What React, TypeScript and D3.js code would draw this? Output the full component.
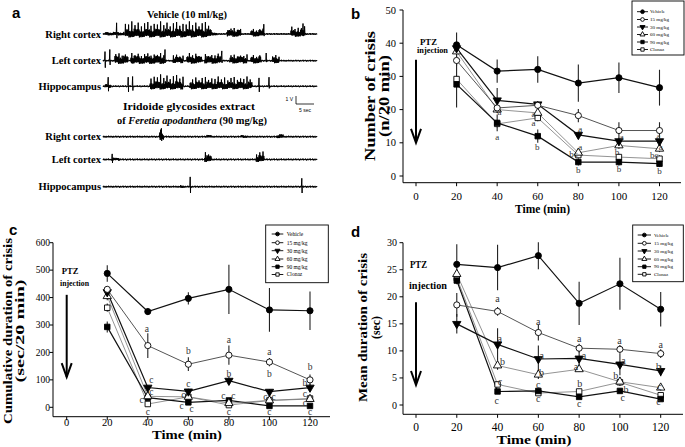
import * as d3 from "d3";

// ---------- shared ----------
const TIMES = [20, 40, 60, 80, 100, 120];
const X_TICKS = [0, 20, 40, 60, 80, 100, 120];
const SERIES = ["Vehicle", "15 mg/kg", "30 mg/kg", "60 mg/kg", "90 mg/kg", "Clonaz"];
const SYMBOLS = ["circle", "circle", "triangleDown", "triangleUp", "square", "square"];
const FILLED = [true, false, true, false, true, false];
const LINE_COLORS = ["#111", "#555", "#111", "#777", "#111", "#777"];
const LINE_WIDTHS = [1.2, 1, 1.2, 0.8, 1.2, 0.8];

// ---------- b: number of crisis ----------
const CRISIS_TICKS = [0, 10, 20, 30, 40, 50];
const CRISIS_MEAN = [
  [39.5, 31.6, 32.1, 28.0, 29.6, 26.6],
  [34.8, 20.5, 21.3, 18.2, 13.7, 13.7],
  [38.5, 22.8, 21.6, 12.4, 10.5, 10.5],
  [37.5, 20.0, 19.0, 7.0, 9.2, 8.2],
  [27.6, 16.0, 12.0, 4.2, 4.2, 3.7],
  [29.2, 15.7, 17.5, 6.3, 5.7, 5.2],
];
const CRISIS_ERR = [
  [3.7, 3.5, 4.0, 5.6, 4.6, 5.4],
  [1.5, 1.0, 1.0, 2.0, 2.5, 2.5],
  [1.5, 3.7, 1.0, 1.0, 1.0, 1.0],
  [1.0, 1.0, 1.0, 1.0, 1.0, 1.0],
  [7.0, 2.5, 2.0, 1.0, 1.0, 1.0],
  [1.0, 1.0, 1.0, 1.0, 1.0, 1.0],
];
const CRISIS_LETTERS: [number, number, string][] = [
  [41.1, 19.3, "a"], [40, 11.8, "a"], [57.9, 18.8, "a"], [57.9, 16, "a"], [59.8, 8.8, "b"],
  [80.9, 14.3, "a"], [80.9, 8.8, "a"], [77.6, 6.6, "bc"], [80, 1.8, "b"],
  [101.4, 11.8, "a"], [99, 7.3, "b"], [100, 2.3, "b"],
  [119.5, 12.1, "a"], [120.6, 8.9, "a"], [117.4, 6.3, "bc"], [120, 1.6, "b"],
];

// ---------- c: cumulative duration ----------
const CUM_TICKS = [0, 100, 200, 300, 400, 500, 600];
const CUM_MEAN = [
  [488, 349, 397, 430, 355, 352],
  [430, 225, 157, 190, 165, 100],
  [420, 72, 58, 97, 57, 72],
  [405, 40, 38, 15, 25, 30],
  [293, 35, 18, 25, 5, 5],
  [363, 12, 38, 8, 25, 32],
];
const CUM_ERR = [
  [30, 12, 22, 90, 80, 70],
  [10, 45, 25, 35, 15, 20],
  [15, 8, 10, 15, 10, 12],
  [15, 5, 5, 5, 5, 5],
  [20, 5, 5, 5, 3, 3],
  [15, 3, 5, 3, 5, 5],
];
const CUM_LETTERS: [number, number, string][] = [
  [39.5, 288, "a"], [41.8, 100, "c"], [41.8, 57, "c"], [37, 27, "c"], [40, -16, "c"],
  [60, 206, "b"], [60, 87, "c"], [57.5, 47, "c"], [56.7, 5, "c"], [61.6, -4, "c"],
  [80, 245, "a"], [80, 121, "b"], [77.3, 41, "c"], [82.2, 41, "c"], [80, -16, "c"],
  [100, 203, "a"], [100, 121, "b"], [98, 39, "c"], [102, 39, "c"], [100, -16, "c"],
  [120, 148, "b"], [117.5, 90, "b"], [117.5, 49, "c"], [117.5, 17, "c"], [120, -16, "c"],
];

// ---------- d: mean duration ----------
const DUR_TICKS = [0, 5, 10, 15, 20, 25, 30];
const DUR_MEAN = [
  [26.0, 25.4, 27.6, 18.8, 22.4, 17.7],
  [18.5, 17.3, 13.4, 10.5, 10.3, 9.5],
  [15.0, 11.2, 8.5, 8.6, 7.5, 6.3],
  [24.2, 7.3, 5.6, 6.6, 4.3, 3.2],
  [23.0, 2.5, 2.6, 1.5, 2.6, 1.1],
  [23.5, 3.8, 2.2, 2.5, 4.2, 1.8],
];
const DUR_ERR = [
  [3.7, 4.2, 2.5, 4.0, 4.8, 3.2],
  [2.2, 0.8, 1.5, 0.8, 0.8, 0.8],
  [1.8, 3.0, 2.5, 1.5, 2.0, 1.0],
  [0.5, 0.8, 0.8, 0.5, 0.8, 0.5],
  [0.5, 0.4, 0.4, 0.4, 0.4, 0.3],
  [0.5, 0.5, 0.4, 0.4, 0.5, 0.4],
];
const DUR_LETTERS: [number, number, string][] = [
  [40, 19.6, "a"], [41, 12.3, "a"], [42.4, 8, "b"], [41.2, 4.4, "c"], [39.6, 0.9, "c"],
  [60, 15.4, "a"], [61.6, 9.2, "a"], [61.6, 6, "b"], [60, 3.7, "c"], [60, 1.2, "c"],
  [80, 12.2, "a"], [82.4, 9.1, "a"], [78.4, 7.1, "a"], [80.3, 3.9, "b"], [80, 0.3, "c"],
  [99.8, 11.9, "a"], [101.7, 8.3, "a"], [98, 5.4, "b"], [103, 2.9, "b"], [101.4, 1.4, "c"],
  [120, 11.1, "a"], [118.9, 7.1, "b"], [119.4, 3.5, "c"], [118.9, 0.6, "c"],
];

// ---------- a: EEG traces (time in s, amplitude in V) ----------
const EEG_LEADS = ["Right cortex", "Left cortex", "Hippocampus"];
const EEG_END = 53.5;
const NOISE = [0.2, -0.35, 0.5, -0.1, 0.3, -0.55, 0.15, -0.25, 0.45, -0.4, 0.05, -0.3, 0.35, -0.15, 0.55, -0.45, 0.25, -0.2];
const BURST_SHAPE = [1, 0.55, 0.8, 0.4, 0.95, 0.6, 0.7, 0.35, 0.9, 0.5, 0.75, 0.45, 0.85];
const SPIKE_SHAPE = [1, 0.7, 0.9, 0.6, 0.85, 0.95, 0.65, 0.8, 0.75];
// [start, end, amplitude, tall-spike amplitude]
const VEHICLE_BURSTS: [number, number, number, number][][] = [
  [[0.5, 5.3, 0.3, 0], [5.5, 27, 0.75, 1.8], [27, 28.5, 0.3, 0], [31, 34.5, 0.6, 0.9], [37, 40, 0.55, 0.8], [47, 50.5, 0.6, 1.1]],
  [[3, 6.3, 0.7, 1.1], [7, 15.5, 0.7, 1.1], [17.5, 20, 0.55, 0.9], [21, 24.7, 0.65, 1.1], [25.5, 29.7, 0.65, 1.0], [31.7, 36, 0.6, 0.9], [37, 39.5, 0.6, 0.9], [42.3, 44, 0.55, 0.8]],
  [[0.5, 2, 0.35, 0], [11.8, 20, 0.7, 1.7], [21.7, 37.3, 0.65, 1.4]],
];
// [time, up, down]
const VEHICLE_SPIKES: [number, number, number][][] = [
  [[3.4, 1.6, 0.6], [40.2, 1.4, 0.3], [50, 1.5, 0.3]],
  [[0.5, 1.3, 1.0], [1.7, 1.6, 0.6], [15.5, 1.6, 0.3], [29.7, 1.4, 0.3], [40.8, 1.1, 0.2]],
  [[1.3, 1.3, 0.7], [6.3, 1.3, 0.8], [7.4, 1.4, 0.6], [39, 1.2, 0.8], [41.5, 1.3, 0.3]],
];
const EXTRACT_BURSTS: [number, number, number, number][][] = [
  [[14.2, 15.2, 0.7, 1.0], [26, 27, 0.25, 0], [34.5, 36, 0.25, 0], [43.5, 45, 0.35, 0]],
  [[2, 4, 0.25, 0], [25.4, 27, 0.6, 1.1], [38.3, 40.2, 0.6, 1.2]],
  [[19.3, 20.3, 0.25, 0]],
];
const EXTRACT_SPIKES: [number, number, number][][] = [
  [[14.6, 1.2, 0.6]],
  [[2.3, 0.8, 0.5]],
  [[21.8, 1.4, 0.9], [49.7, 1.2, 0.9]],
];

const SERIF = "Liberation Serif, Times New Roman, serif";
const SANS = "Liberation Sans, Arial, sans-serif";

type Geom = {
  xr: [number, number];
  yd: [number, number];
  yr: [number, number];
  yTicks: number[];
  axisLeft: number;
  axisBottom: number;
  axisRight: number;
  yTickX: number;
  xTickY: number;
  yTickFont: number;
  xTickFont: number;
  letterFont: number;
  xTitle: { x: number; y: number; len: number; size: number };
  yTitle: { x: number; len: number; text: string }[];
  yTitleY: number;
  yTitleSize: number;
  legend: { x: number; y: number; w: number; h: number; rows: number[]; lineX: [number, number]; textX: number; size: number };
  arrow: [number, number];
  ptz: { x: number; y: number; len: number; text: string }[];
  ptzSize: number;
  letter: { x: number; y: number; text: string };
};

function symbolPath(kind: string, size: number) {
  const type = kind === "circle" ? d3.symbolCircle : kind === "square" ? d3.symbolSquare : d3.symbolTriangle;
  return d3.symbol().type(type).size(size)() as string;
}

function Marker({ i, x, y, size }: { i: number; x: number; y: number; size: number }) {
  const kind = SYMBOLS[i];
  const rot = kind === "triangleDown" ? 180 : 0;
  return (
    <path
      d={symbolPath(kind, size)}
      transform={`translate(${x},${y}) rotate(${rot})`}
      fill={FILLED[i] ? "#000" : "#fff"}
      stroke="#000"
      strokeWidth={0.9}
    />
  );
}

const serif = { fontFamily: SERIF };

function LinePanel({ g, means, errs, letters }: { g: Geom; means: number[][]; errs: number[][]; letters: [number, number, string][] }) {
  const x = d3.scaleLinear().domain([0, 120]).range(g.xr);
  const y = d3.scaleLinear().domain(g.yd).range(g.yr);
  const line = d3.line<number>().x((_, k) => x(TIMES[k])).y((v) => y(v));
  const order = d3.range(SERIES.length).reverse();
  const lg = g.legend;
  return (
    <g style={serif}>
      <text x={g.letter.x} y={g.letter.y} style={{ fontFamily: SANS }} fontWeight={700} fontSize={15}>{g.letter.text}</text>

      {/* axes */}
      <line x1={g.axisLeft} x2={g.axisLeft} y1={y(g.yd[1])} y2={g.axisBottom} stroke="#000" strokeWidth={1} />
      <line x1={g.axisLeft} x2={g.axisRight} y1={g.axisBottom} y2={g.axisBottom} stroke="#000" strokeWidth={1} />
      {g.yTicks.map((t) => (
        <g key={`y${t}`}>
          <line x1={g.axisLeft - 3.5} x2={g.axisLeft} y1={y(t)} y2={y(t)} stroke="#000" />
          <text x={g.yTickX} y={y(t)} dy="0.35em" textAnchor="end" fontSize={g.yTickFont}>{t}</text>
        </g>
      ))}
      {X_TICKS.map((t) => (
        <g key={`x${t}`}>
          <line x1={x(t)} x2={x(t)} y1={g.axisBottom} y2={g.axisBottom + 3.5} stroke="#000" />
          <text x={x(t)} y={g.xTickY} textAnchor="middle" fontSize={g.xTickFont}>{t}</text>
        </g>
      ))}
      <text x={g.xTitle.x} y={g.xTitle.y} textAnchor="middle" fontWeight={700} fontSize={g.xTitle.size}
        textLength={g.xTitle.len} lengthAdjust="spacingAndGlyphs">Time (min)</text>
      {g.yTitle.map((t) => (
        <text key={t.text} transform={`translate(${t.x},${g.yTitleY}) rotate(-90)`} textAnchor="middle" dy="0.35em"
          fontWeight={700} fontSize={g.yTitleSize} textLength={t.len} lengthAdjust="spacingAndGlyphs">{t.text}</text>
      ))}

      {/* PTZ injection arrow */}
      {g.ptz.map((p) => (
        <text key={p.text} x={p.x} y={p.y} fontWeight={700} fontSize={g.ptzSize} textLength={p.len} lengthAdjust="spacingAndGlyphs">{p.text}</text>
      ))}
      <line x1={x(0)} x2={x(0)} y1={y(g.arrow[0])} y2={y(g.arrow[1])} stroke="#000" strokeWidth={2} />
      <path d={`M${x(0) - 5},${y(g.arrow[1]) - 14} L${x(0)},${y(g.arrow[1])} L${x(0) + 5},${y(g.arrow[1]) - 14}`} fill="none" stroke="#000" strokeWidth={2} />

      {/* series */}
      {order.map((i) => (
        <g key={SERIES[i]}>
          <path d={line(means[i]) as string} fill="none" stroke={LINE_COLORS[i]} strokeWidth={LINE_WIDTHS[i]} />
          {means[i].map((v, k) => (
            <line key={k} x1={x(TIMES[k])} x2={x(TIMES[k])} y1={y(v - errs[i][k])} y2={y(v + errs[i][k])} stroke="#222" strokeWidth={1.1} />
          ))}
        </g>
      ))}
      {order.map((i) => (
        <g key={`m${SERIES[i]}`}>
          {means[i].map((v, k) => (
            <Marker key={k} i={i} x={x(TIMES[k])} y={y(v)} size={30} />
          ))}
        </g>
      ))}
      {letters.map(([t, v, s], k) => (
        <text key={k} x={x(t)} y={y(v)} dy="0.35em" textAnchor="middle" fontSize={g.letterFont} fill="#333">{s}</text>
      ))}

      {/* legend */}
      <rect x={lg.x} y={lg.y} width={lg.w} height={lg.h} fill="#fff" stroke="#000" strokeWidth={0.9} />
      {SERIES.map((s, i) => (
        <g key={`l${s}`}>
          <line x1={lg.lineX[0]} x2={lg.lineX[1]} y1={lg.rows[i]} y2={lg.rows[i]} stroke="#000" strokeWidth={0.9} />
          <Marker i={i} x={(lg.lineX[0] + lg.lineX[1]) / 2} y={lg.rows[i]} size={11} />
          <text x={lg.textX} y={lg.rows[i]} dy="0.35em" fontSize={lg.size}>{s}</text>
        </g>
      ))}
    </g>
  );
}

const GEOM_B: Geom = {
  xr: [416, 659.5], yd: [0, 50], yr: [176, 10], yTicks: CRISIS_TICKS,
  axisLeft: 403, axisBottom: 182.7, axisRight: 681, yTickX: 396, xTickY: 199.5,
  yTickFont: 10.5, xTickFont: 11, letterFont: 9,
  xTitle: { x: 542.5, y: 213, len: 55, size: 11.5 },
  yTitle: [{ x: 370, len: 130, text: "Number of crisis" }, { x: 383.5, len: 82, text: "(n/20 min)" }],
  yTitleY: 96, yTitleSize: 15,
  legend: { x: 632, y: 1, w: 52, h: 54, rows: [11.7, 19.5, 27, 34.5, 42, 49.5], lineX: [637, 648], textX: 650, size: 5 },
  arrow: [35, 10],
  ptz: [{ x: 420, y: 44.5, len: 17, text: "PTZ" }, { x: 417, y: 53, len: 31, text: "injection" }],
  ptzSize: 8.5,
  letter: { x: 351, y: 19, text: "b" },
};

const GEOM_C: Geom = {
  xr: [66.7, 310], yd: [0, 600], yr: [407.3, 242.7], yTicks: CUM_TICKS,
  axisLeft: 53, axisBottom: 416.7, axisRight: 330, yTickX: 50, xTickY: 425.5,
  yTickFont: 9.5, xTickFont: 10.5, letterFont: 9.5,
  xTitle: { x: 187, y: 438.5, len: 70, size: 12.5 },
  yTitle: [{ x: 7.5, len: 186, text: "Cumulative duration of crisis" }, { x: 19, len: 103, text: "(sec/20 min)" }],
  yTitleY: 331, yTitleSize: 13.5,
  legend: { x: 265.7, y: 225, w: 62.6, h: 57.7, rows: [234, 242.7, 250.7, 259, 266.7, 274.5], lineX: [271.7, 283.3], textX: 286.7, size: 5.5 },
  arrow: [410, 110],
  ptz: [{ x: 61.7, y: 274, len: 16.7, text: "PTZ" }, { x: 60, y: 285.5, len: 29, text: "injection" }],
  ptzSize: 9,
  letter: { x: 9, y: 235, text: "c" },
};

const GEOM_D: Geom = {
  xr: [416, 660.7], yd: [0, 30], yr: [405, 242.7], yTicks: DUR_TICKS,
  axisLeft: 403, axisBottom: 414.3, axisRight: 683, yTickX: 397, xTickY: 430.5,
  yTickFont: 10, xTickFont: 11.5, letterFont: 10,
  xTitle: { x: 534, y: 444, len: 75, size: 13 },
  yTitle: [{ x: 362, len: 149, text: "Mean duration of crisis" }, { x: 375, len: 23, text: "(sec)" }],
  yTitleY: 327.5, yTitleSize: 13.5,
  legend: { x: 632.7, y: 225, w: 50.6, h: 56.7, rows: [235, 243.3, 251, 259, 266.7, 274.3], lineX: [637.7, 651], textX: 654, size: 5 },
  arrow: [19, 3.7],
  ptz: [{ x: 410, y: 268, len: 17, text: "PTZ" }, { x: 409, y: 289, len: 38, text: "injection" }],
  ptzSize: 11,
  letter: { x: 351, y: 237, text: "d" },
};

// ---------- EEG ----------
const eegX = d3.scaleLinear().domain([0, EEG_END]).range([103, 317]);
const eegAmp = d3.scaleLinear().domain([0, 1]).range([0, 7]);
const STEP = 0.1;

function eegPath(bursts: [number, number, number, number][], spikes: [number, number, number][], baseY: number, noise: number) {
  const pts: [number, number][] = [];
  const n = Math.round(EEG_END / STEP);
  const spikeAt = new Map(spikes.map(([t, u, dn]) => [Math.round(t / STEP), [u, dn]]));
  for (let k = 0; k <= n; k++) {
    const t = k * STEP;
    const sp = spikeAt.get(k);
    if (sp) {
      pts.push([eegX(t), baseY - eegAmp(sp[0])]);
      pts.push([eegX(t) + 0.3, baseY + eegAmp(sp[1])]);
      continue;
    }
    let v = NOISE[k % NOISE.length] * noise;
    const b = bursts.find(([s, e]) => t >= s && t <= e);
    if (b) {
      const [, , amp, spk] = b;
      v = (k % 2 === 0 ? 1 : -0.65) * amp * BURST_SHAPE[k % BURST_SHAPE.length];
      if (spk > 0 && k % 8 === 0) v = spk * SPIKE_SHAPE[(k / 8) % SPIKE_SHAPE.length];
    }
    pts.push([eegX(t), baseY - eegAmp(v)]);
  }
  return d3.line()(pts) as string;
}

const VEHICLE_Y = [34, 60.7, 86.3];
const EXTRACT_Y = [136.7, 159.5, 186.7];

function EegPanel() {
  return (
    <g style={serif}>
      <text x={12} y={18} style={{ fontFamily: SANS }} fontWeight={700} fontSize={15}>a</text>
      <text x={187} y={17.5} textAnchor="middle" fontWeight={700} fontSize={10.5} textLength={80} lengthAdjust="spacingAndGlyphs">Vehicle (10 ml/kg)</text>
      {EEG_LEADS.map((lead, i) => (
        <g key={`v${lead}`}>
          <text x={101} y={VEHICLE_Y[i] + 3.5} textAnchor="end" fontWeight={700} fontSize={10.5}>{lead}</text>
          <path d={eegPath(VEHICLE_BURSTS[i], VEHICLE_SPIKES[i], VEHICLE_Y[i], 0.24)} fill="none" stroke="#000" strokeWidth={1} />
        </g>
      ))}
      {/* scale bar */}
      <text x={293} y={101} textAnchor="end" style={{ fontFamily: SANS }} fontSize={5}>1 V</text>
      <path d="M296,96 V104 H314" fill="none" stroke="#000" strokeWidth={0.8} />
      <text x={305} y={112} textAnchor="middle" style={{ fontFamily: SANS }} fontSize={5}>5 sec</text>

      <text x={189} y={110} textAnchor="middle" fontWeight={700} fontSize={10.5} textLength={132} lengthAdjust="spacingAndGlyphs">Iridoide glycosides extract</text>
      <text x={192} y={124} textAnchor="middle" fontWeight={700} fontSize={10.5} textLength={150} lengthAdjust="spacingAndGlyphs">
        of <tspan fontStyle="italic">Feretia apodanthera</tspan> (90 mg/kg)
      </text>
      {EEG_LEADS.map((lead, i) => (
        <g key={`e${lead}`}>
          <text x={101} y={EXTRACT_Y[i] + 3.5} textAnchor="end" fontWeight={700} fontSize={10.5}>{lead}</text>
          <path d={eegPath(EXTRACT_BURSTS[i], EXTRACT_SPIKES[i], EXTRACT_Y[i], 0.26)} fill="none" stroke="#000" strokeWidth={1} />
        </g>
      ))}
    </g>
  );
}

export default function App() {
  return (
    <svg width={685} height={447} viewBox="0 0 685 447"
      style={{ position: "absolute", left: 0, top: 0, background: "#fff", fontFamily: SERIF }}>
      <rect width={685} height={447} fill="#fff" />
      <EegPanel />
      <LinePanel g={GEOM_B} means={CRISIS_MEAN} errs={CRISIS_ERR} letters={CRISIS_LETTERS} />
      <LinePanel g={GEOM_C} means={CUM_MEAN} errs={CUM_ERR} letters={CUM_LETTERS} />
      <LinePanel g={GEOM_D} means={DUR_MEAN} errs={DUR_ERR} letters={DUR_LETTERS} />
    </svg>
  );
}
